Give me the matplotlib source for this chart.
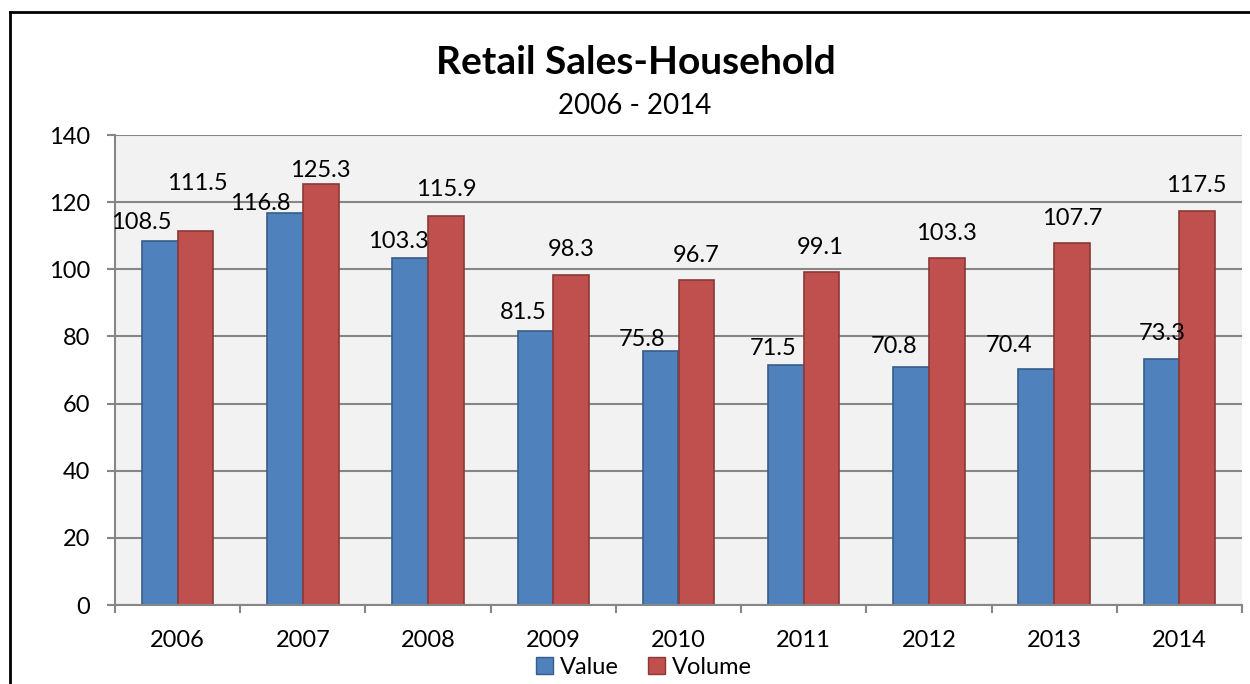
import matplotlib
matplotlib.use("Agg")
import matplotlib.pyplot as plt
from matplotlib.lines import Line2D
from matplotlib.patches import Patch
import numpy as np

plt.rcParams['font.family'] = ['Lato', 'DejaVu Sans']

years = ["2006", "2007", "2008", "2009", "2010", "2011", "2012", "2013", "2014"]
value = [108.5, 116.8, 103.3, 81.5, 75.8, 71.5, 70.8, 70.4, 73.3]
volume = [111.5, 125.3, 115.9, 98.3, 96.7, 99.1, 103.3, 107.7, 117.5]
yticks = [0, 20, 40, 60, 80, 100, 120, 140]

# label placement (pixels relative to bar top-centre), layout only
val_dx = [-18, -25, -12, -12, -19, -13, -17, -27, 1]
val_dy = [20, 11, 19, 21, 13.5, 18, 23, 25, 27]
vol_dx = [2, 0, 0, 0, 0, -1, 0, 0, -1]
vol_dy = [49, 16, 28, 27, 27, 27, 27, 27, 27]

BLUE, BLUE_E = "#4F81BD", "#385D8A"
RED, RED_E = "#C0504D", "#8C3836"
GRID = "#868686"
FS = 17

fig = plt.figure(figsize=(12.5, 6.84), dpi=100)
W, H = 1250, 684
ax = fig.add_axes([115 / W, 1 - 605 / H, (1242 - 115) / W, (605 - 135) / H])
ax.set_facecolor("#F2F2F2")

x = np.arange(len(years))
bw = 1 / 3.5
b1 = ax.bar(x - bw / 2, value, bw, color=BLUE, edgecolor=BLUE_E, linewidth=1.2, zorder=3)
b2 = ax.bar(x + bw / 2, volume, bw, color=RED, edgecolor=RED_E, linewidth=1.2, zorder=3)

px = 0.72
for i in range(len(years)):
    ax.annotate(f"{value[i]:.1f}", (x[i] - bw / 2, value[i]), xytext=(val_dx[i] * px, (val_dy[i] - 8.5) * px),
                textcoords="offset points", ha="center", va="baseline", fontsize=FS, zorder=5)
    ax.annotate(f"{volume[i]:.1f}", (x[i] + bw / 2, volume[i]), xytext=(vol_dx[i] * px, (vol_dy[i] - 8.5) * px),
                textcoords="offset points", ha="center", va="baseline", fontsize=FS, zorder=5)

ax.set_xlim(-0.5, len(years) - 0.5)
ax.set_ylim(0, 140)
ax.set_yticks(yticks)
ax.set_yticklabels([str(v) for v in yticks], fontsize=FS)
ax.yaxis.grid(True, color=GRID, linewidth=1.5, zorder=1)
ax.set_xticks(x)
ax.set_xticklabels(years, fontsize=FS)
ax.set_xticks(np.arange(-0.5, len(years)), minor=True)
ax.tick_params(axis="x", which="major", length=0, pad=18)
ax.tick_params(axis="x", which="minor", length=6, width=1.5, color=GRID, direction="out")
ax.tick_params(axis="y", length=6, width=1.5, color=GRID, pad=12)
for s in ["top", "right"]:
    ax.spines[s].set_visible(False)
for s in ["left", "bottom"]:
    ax.spines[s].set_color(GRID)
    ax.spines[s].set_linewidth(1.5)
    ax.spines[s].set_zorder(4)

fig.text(0.5 * (435 + 836) / W, 1 - 62 / H, "Retail Sales-Household", ha="center", va="center",
         fontsize=28, fontweight="bold")
fig.text(0.5 * (558 + 712) / W, 1 - 106 / H, "2006 - 2014", ha="center", va="center", fontsize=20)

handles = [Patch(facecolor=BLUE, edgecolor=BLUE_E, label="Value"),
           Patch(facecolor=RED, edgecolor=RED_E, label="Volume")]
fig.legend(handles=handles, loc="center", bbox_to_anchor=(644 / W, 1 - 667 / H), ncol=2, frameon=False,
           fontsize=FS, handlelength=0.75, handleheight=0.75, handletextpad=0.3, columnspacing=1.2,
           borderpad=0)

fig.add_artist(Line2D([10 / W, 10 / W], [0, 1 - 12 / H], color="black", linewidth=2, transform=fig.transFigure))
fig.add_artist(Line2D([10 / W, 1], [1 - 12 / H, 1 - 12 / H], color="black", linewidth=2, transform=fig.transFigure))

fig.savefig("out.png", dpi=100)
